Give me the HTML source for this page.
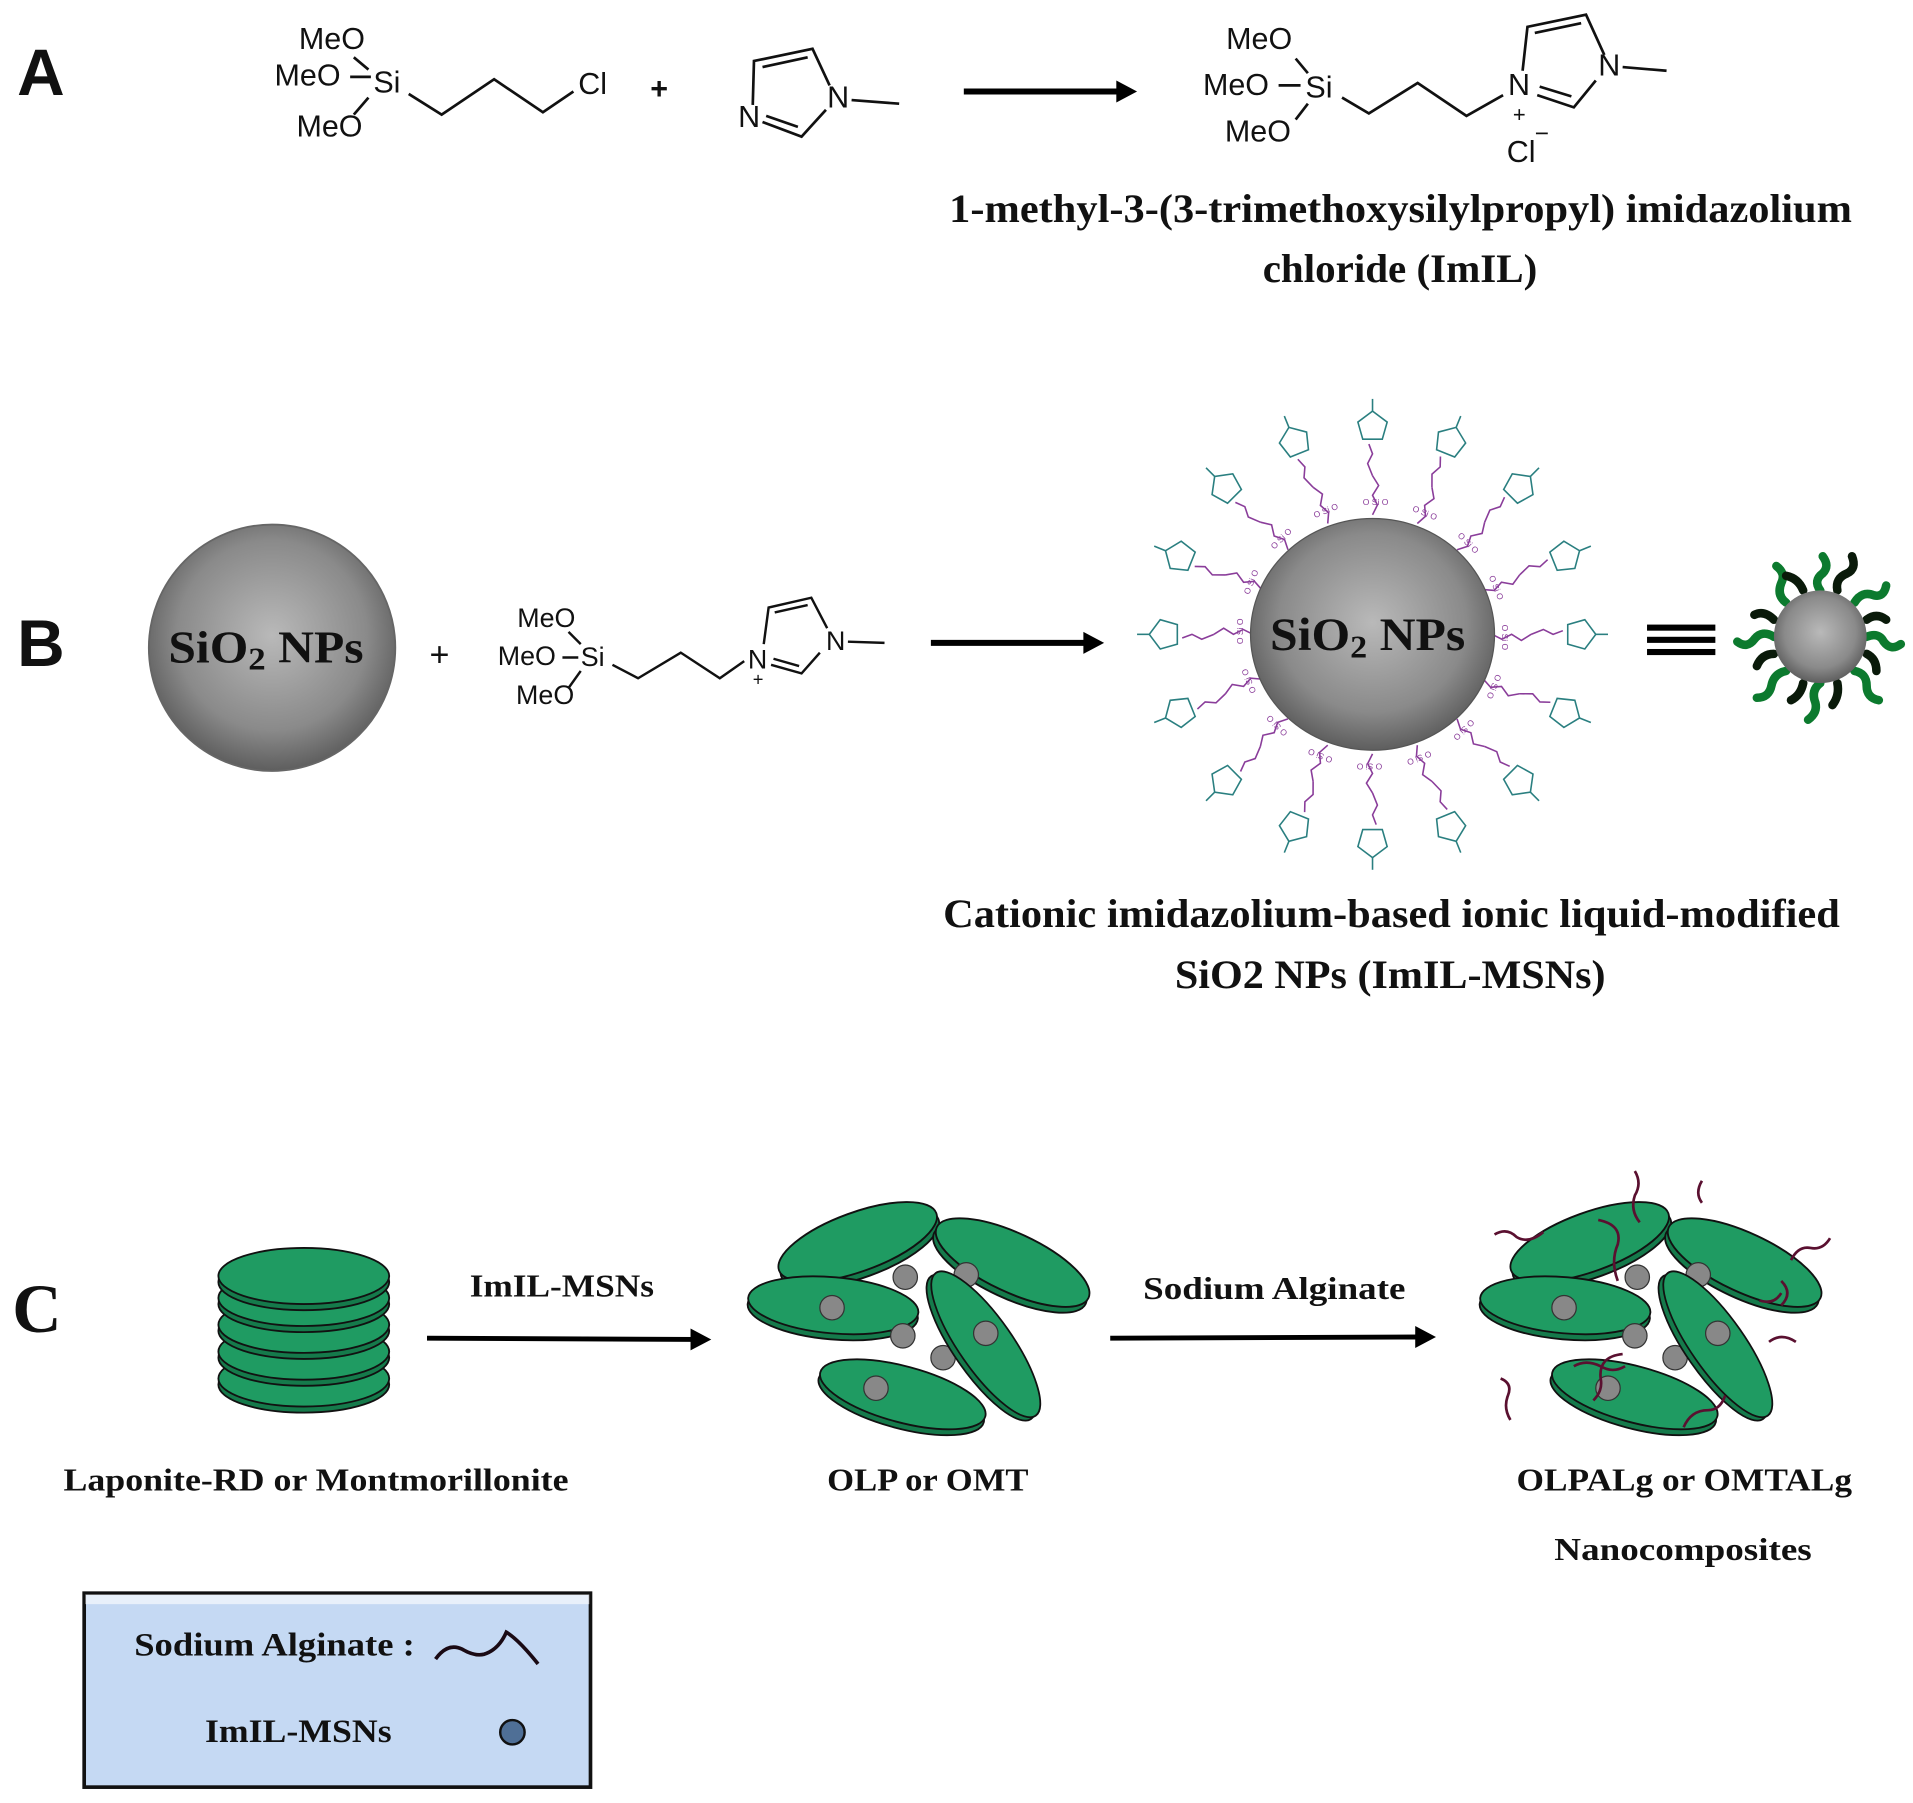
<!DOCTYPE html>
<html><head><meta charset="utf-8"><style>
html,body{margin:0;padding:0;background:#fff;}
svg{display:block}
.s{font-family:"Liberation Sans",sans-serif;fill:#111}
.r{font-family:"Liberation Serif",serif;font-weight:bold;fill:#111}
</style></head><body>
<svg width="1913" height="1803" viewBox="0 0 1568 1478" preserveAspectRatio="none" xmlns="http://www.w3.org/2000/svg">
<defs>
<radialGradient id="sph" cx="50%" cy="45%" r="55%"><stop offset="0" stop-color="#b9b9b9"/><stop offset="0.7" stop-color="#8a8a8a"/><stop offset="1" stop-color="#5e5e5e"/></radialGradient>
<g id="disc"><ellipse cx="0" cy="5" rx="70" ry="23" fill="#157a4b" stroke="#111" stroke-width="1.5"/><ellipse cx="0" cy="0" rx="70" ry="23" fill="#1f9b62" stroke="#111" stroke-width="1.5"/></g>
<g id="arm">
<path d="M0,-98 l4,-8 l-4,-8 l5,-8 l-5,-8" stroke="#8a3d9a" fill="none" stroke-width="1.3"/>
<text x="-8" y="-106" font-size="7" fill="#8a3d9a" font-family="Liberation Sans">O Si O</text>
<path d="M0,-130 l-4,-10 l4,-8 l-3,-8" stroke="#8a3d9a" fill="none" stroke-width="1.3"/>
<path d="M-8,-160 l16,0 l4,-14 l-12,-9 l-12,9z" stroke="#2a7f80" fill="none" stroke-width="1.3"/>
<path d="M0,-183 l0,-10" stroke="#2a7f80" stroke-width="1.3"/>
</g>
</defs>

<!-- A -->
<text x="14" y="78" class="s" font-size="54" font-weight="bold">A</text>
<g class="s" font-size="25">
<text x="245" y="40">MeO</text><text x="225" y="70">MeO</text><text x="306" y="76">Si</text><text x="243" y="112">MeO</text>
<text x="474" y="77">Cl</text>
<text x="533" y="81" font-weight="bold">+</text>
<text x="605" y="104">N</text><text x="678" y="88">N</text>
</g>
<g stroke="#111" stroke-width="2.2" fill="none">
<path d="M287,63 L304,63"/><path d="M290,47 L302,57"/><path d="M290,94 L302,80"/>
<path d="M335,77 L362,94 L405,65 L445,92 L470,75"/>
<path d="M617,86 L618,50 L666,40 L680,70"/><path d="M625,55 L662,47"/>
<path d="M625,100 L657,112 L677,90"/><path d="M628,95 L654,104"/>
<path d="M698,82 L737,85"/>
</g>
<line x1="790" y1="75" x2="922" y2="75" stroke="#000" stroke-width="5"/>
<path d="M915,66 L932,75 L915,84z" fill="#000"/>
<g class="s" font-size="25">
<text x="1005" y="40">MeO</text><text x="986" y="78">MeO</text><text x="1070" y="80">Si</text><text x="1004" y="116">MeO</text>
<text x="1236" y="78">N</text><text x="1240" y="100" font-size="18">+</text><text x="1310" y="62">N</text>
<text x="1235" y="133">Cl</text><text x="1258" y="116" font-size="20">−</text>
</g>
<g stroke="#111" stroke-width="2.2" fill="none">
<path d="M1048,70 L1066,70"/><path d="M1062,48 L1072,60"/><path d="M1062,98 L1072,85"/>
<path d="M1100,80 L1122,93 L1162,68 L1202,95 L1232,78"/>
<path d="M1248,58 L1252,22 L1300,12 L1315,45"/><path d="M1258,27 L1296,19"/>
<path d="M1260,78 L1290,88 L1308,66"/><path d="M1262,71 L1288,79"/>
<path d="M1330,55 L1366,58"/>
</g>
<text x="778" y="182" class="r" font-size="33" textLength="740" lengthAdjust="spacingAndGlyphs">1-methyl-3-(3-trimethoxysilylpropyl) imidazolium</text>
<text x="1035" y="231" class="r" font-size="33" textLength="225" lengthAdjust="spacingAndGlyphs">chloride (ImIL)</text>

<!-- B -->
<text x="14" y="546" class="s" font-size="54" font-weight="bold">B</text>
<circle cx="223" cy="531" r="101" fill="url(#sph)" stroke="#666" stroke-width="1.5"/>
<text x="138" y="543" class="r" font-size="37" font-weight="normal" textLength="160" lengthAdjust="spacingAndGlyphs">SiO<tspan font-size="26" dy="6">2</tspan><tspan dy="-6"> NPs</tspan></text>
<text x="352" y="546" class="s" font-size="28">+</text>
<g class="s" font-size="22">
<text x="424" y="514">MeO</text><text x="408" y="545">MeO</text><text x="476" y="546">Si</text><text x="423" y="577">MeO</text>
<text x="613" y="548">N</text><text x="617" y="562" font-size="15">+</text><text x="677" y="533">N</text>
</g>
<g stroke="#111" stroke-width="2" fill="none">
<path d="M461,539 L474,539"/><path d="M466,518 L476,528"/><path d="M466,564 L476,550"/>
<path d="M502,545 L523,556 L558,535 L590,556 L610,542"/>
<path d="M626,528 L630,498 L665,490 L678,515"/><path d="M635,502 L662,496"/>
<path d="M632,545 L657,552 L672,535"/><path d="M634,540 L655,546"/>
<path d="M695,526 L725,527"/>
</g>
<line x1="763" y1="527" x2="895" y2="527" stroke="#000" stroke-width="5"/>
<path d="M888,518 L905,527 L888,536z" fill="#000"/>
<!-- decorated sphere -->
<g transform="translate(1125,520)">
<g><use href="#arm" transform="rotate(0)"/><use href="#arm" transform="rotate(22)"/><use href="#arm" transform="rotate(45)"/><use href="#arm" transform="rotate(68)"/><use href="#arm" transform="rotate(90)"/><use href="#arm" transform="rotate(112)"/><use href="#arm" transform="rotate(135)"/><use href="#arm" transform="rotate(158)"/><use href="#arm" transform="rotate(180)"/><use href="#arm" transform="rotate(202)"/><use href="#arm" transform="rotate(225)"/><use href="#arm" transform="rotate(248)"/><use href="#arm" transform="rotate(270)"/><use href="#arm" transform="rotate(292)"/><use href="#arm" transform="rotate(315)"/><use href="#arm" transform="rotate(338)"/></g>
<ellipse cx="0" cy="0" rx="100" ry="95" fill="url(#sph)" stroke="#555" stroke-width="1"/>
<text x="-84" y="13" class="r" font-size="38" font-weight="normal" fill="#222" textLength="160" lengthAdjust="spacingAndGlyphs">SiO<tspan font-size="26" dy="6">2</tspan><tspan dy="-6"> NPs</tspan></text>
</g>
<rect x="1350" y="512" width="56" height="5" fill="#000"/><rect x="1350" y="522" width="56" height="5" fill="#000"/><rect x="1350" y="532" width="56" height="5" fill="#000"/>
<g transform="translate(1492,522)" fill="none" stroke-width="7" stroke-linecap="round">
<g stroke="#0c7a2e"><path d="M0,-38 q-6,-8 2,-14 q6,-6 0,-14"/><path d="M28,-28 q6,-10 16,-6 q8,2 10,-8"/><path d="M38,0 q10,-4 14,4 q6,8 14,2"/><path d="M28,28 q10,2 10,12 q0,10 10,12"/><path d="M0,38 q-8,6 -4,16 q2,8 -6,14"/><path d="M-28,28 q-10,2 -12,12 q-2,10 -12,10"/><path d="M-38,0 q-10,-6 -16,2 q-6,8 -14,2"/><path d="M-28,-28 q-8,-6 -4,-16 q4,-8 -4,-14"/></g>
<g stroke="#0a1a0a"><path d="M14,-38 q-2,-10 8,-14 q8,-4 4,-14"/><path d="M38,-14 q8,-6 16,0"/><path d="M38,14 q8,4 8,14"/><path d="M14,38 q2,10 -4,18"/><path d="M-14,38 q-2,10 -10,14"/><path d="M-38,14 q-10,0 -14,10"/><path d="M-38,-14 q-8,-8 -16,-4"/><path d="M-14,-38 q-4,-10 -14,-12"/></g>
<circle r="38" fill="url(#sph)" stroke="none"/>
</g>
<text x="773" y="760" class="r" font-size="33" textLength="735" lengthAdjust="spacingAndGlyphs">Cationic imidazolium-based ionic liquid-modified</text>
<text x="963" y="810" class="r" font-size="33" textLength="353" lengthAdjust="spacingAndGlyphs">SiO2 NPs (ImIL-MSNs)</text>

<!-- C -->
<text x="10" y="1092" class="r" font-size="56" font-weight="normal">C</text>
<use href="#disc" transform="translate(249,1130)"/>
<use href="#disc" transform="translate(249,1108)"/>
<use href="#disc" transform="translate(249,1086)"/>
<use href="#disc" transform="translate(249,1064)"/>
<use href="#disc" transform="translate(249,1046)"/>
<text x="385" y="1063" class="r" font-size="26" textLength="151" lengthAdjust="spacingAndGlyphs">ImIL-MSNs</text>
<line x1="350" y1="1097" x2="570" y2="1098" stroke="#000" stroke-width="4"/>
<path d="M566,1089 L583,1098 L566,1107z" fill="#000"/>
<g id="cl">
<use href="#disc" transform="translate(703,1018) rotate(-20) scale(0.98,1.05)"/>
<use href="#disc" transform="translate(830,1035) rotate(25) scale(0.98,1.05)"/>
<circle cx="742" cy="1047" r="10" fill="#888" stroke="#333"/><circle cx="792" cy="1045" r="10" fill="#888" stroke="#333"/>
<use href="#disc" transform="translate(683,1070) rotate(5)"/>
<circle cx="740" cy="1095" r="10" fill="#888" stroke="#333"/><circle cx="773" cy="1113" r="10" fill="#888" stroke="#333"/>
<use href="#disc" transform="translate(808,1102) rotate(55) scale(1.02,0.95)"/>
<use href="#disc" transform="translate(740,1143) rotate(15)"/>
<circle cx="682" cy="1072" r="10" fill="#888" stroke="#333"/><circle cx="808" cy="1093" r="10" fill="#888" stroke="#333"/><circle cx="718" cy="1138" r="10" fill="#888" stroke="#333"/>
</g>
<text x="937" y="1065" class="r" font-size="26" textLength="215" lengthAdjust="spacingAndGlyphs">Sodium Alginate</text>
<line x1="910" y1="1097" x2="1165" y2="1096" stroke="#000" stroke-width="4"/>
<path d="M1160,1087 L1177,1096 L1160,1105z" fill="#000"/>
<use href="#cl" transform="translate(600,0)"/>
<g stroke="#5a1030" stroke-width="2.2" fill="none">
<path d="M1340,960 q6,10 0,20 q-4,12 4,22"/><path d="M1225,1012 q10,-6 18,2 q10,6 22,-4"/><path d="M1395,968 q-6,10 0,18"/>
<path d="M1500,1015 q-6,10 -16,8 q-10,-2 -16,10"/><path d="M1460,1050 q10,10 0,20"/>
<path d="M1310,1000 q20,4 16,20 q-6,14 0,30"/><path d="M1330,1110 q-20,2 -18,20 q2,10 -6,18"/>
<path d="M1230,1130 q10,4 6,14 q-4,10 2,20"/><path d="M1450,1100 q10,-8 22,0"/>
<path d="M1380,1170 q6,-14 20,-14 q10,0 14,-12"/><path d="M1460,1060 q-6,10 -18,6"/>
<path d="M1290,1120 q10,-6 22,0 q10,6 20,0"/>
</g>
<text x="52" y="1222" class="r" font-size="26" textLength="414" lengthAdjust="spacingAndGlyphs">Laponite-RD or Montmorillonite</text>
<text x="678" y="1222" class="r" font-size="26" textLength="165" lengthAdjust="spacingAndGlyphs">OLP or OMT</text>
<text x="1243" y="1222" class="r" font-size="26" textLength="275" lengthAdjust="spacingAndGlyphs">OLPALg or OMTALg</text>
<text x="1274" y="1279" class="r" font-size="26" textLength="211" lengthAdjust="spacingAndGlyphs">Nanocomposites</text>

<rect x="69" y="1306" width="415" height="159" fill="#c5d9f3" stroke="#111" stroke-width="3"/>
<rect x="70" y="1307" width="413" height="8" fill="#fff" opacity="0.6"/>
<text x="110" y="1357" class="r" font-size="27" textLength="230" lengthAdjust="spacingAndGlyphs">Sodium Alginate :</text>
<path d="M357,1360 q10,-14 22,-8 q10,6 18,4 q12,-4 18,-18 q10,6 26,26" stroke="#1a0a14" stroke-width="3" fill="none"/>
<text x="168" y="1428" class="r" font-size="27" textLength="153" lengthAdjust="spacingAndGlyphs">ImIL-MSNs</text>
<circle cx="420" cy="1420" r="10" fill="#4f6f96" stroke="#111" stroke-width="2"/>
</svg>
</body></html>
